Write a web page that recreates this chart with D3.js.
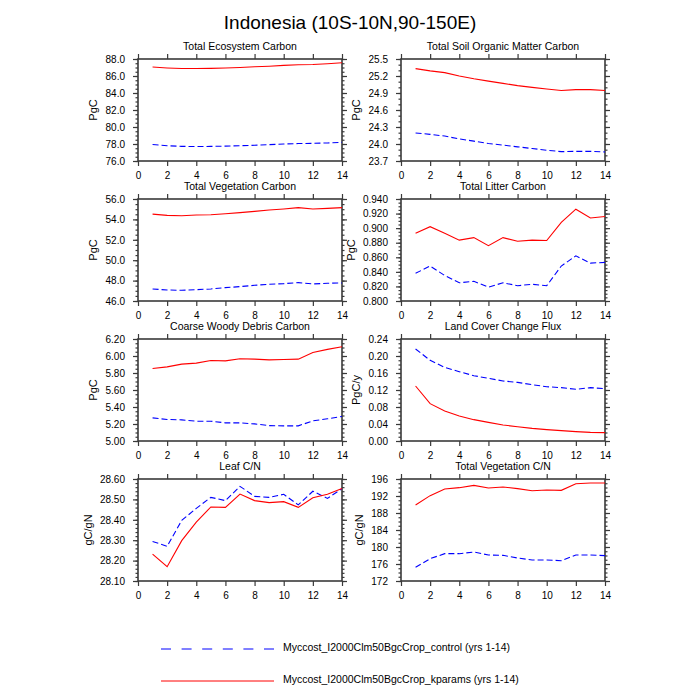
<!DOCTYPE html>
<html>
<head>
<meta charset="utf-8">
<script src="https://cdn.jsdelivr.net/npm/d3@7"></script>
<style>
  body { margin: 0; background: #fff; }
  text { font-family: "Liberation Sans", Arial, Helvetica, sans-serif; }
</style>
</head>
<body>
<div id="chart"></div>
<script>
// ------------------------------------------------------------
// data (years 1-14)

var years = [1, 2, 3, 4, 5, 6, 7, 8, 9, 10, 11, 12, 13, 14];

var tecControl = [77.95, 77.8, 77.72, 77.7, 77.72, 77.75, 77.8, 77.85, 77.92, 78.0, 78.05, 78.08, 78.12, 78.2];
var tecKparams = [87.05, 86.95, 86.88, 86.88, 86.9, 86.95, 87.0, 87.08, 87.15, 87.25, 87.33, 87.35, 87.45, 87.55];
var tecTicks = [76, 78, 80, 82, 84, 86, 88];

var somControl = [24.195, 24.17, 24.14, 24.09, 24.05, 24.01, 23.98, 23.95, 23.92, 23.89, 23.865, 23.87, 23.87, 23.86];
var somKparams = [25.33, 25.29, 25.26, 25.2, 25.15, 25.11, 25.07, 25.03, 25.0, 24.97, 24.945, 24.96, 24.96, 24.945];
var somTicks = [23.7, 24.0, 24.3, 24.6, 24.9, 25.2, 25.5];

var vegControl = [47.18, 47.08, 47.05, 47.11, 47.18, 47.31, 47.41, 47.54, 47.64, 47.7, 47.8, 47.67, 47.74, 47.77];
var vegKparams = [54.52, 54.39, 54.36, 54.43, 54.46, 54.56, 54.66, 54.79, 54.92, 55.02, 55.15, 55.02, 55.08, 55.15];
var vegTicks = [46, 48, 50, 52, 54, 56];

var litControl = [0.838, 0.848, 0.835, 0.825, 0.827, 0.819, 0.825, 0.821, 0.823, 0.821, 0.848, 0.862, 0.852, 0.853];
var litKparams = [0.893, 0.902, 0.893, 0.8835, 0.887, 0.876, 0.887, 0.882, 0.8835, 0.883, 0.908, 0.926, 0.914, 0.916];
var litTicks = [0.80, 0.82, 0.84, 0.86, 0.88, 0.90, 0.92, 0.94];

var cwdControl = [5.272, 5.253, 5.249, 5.233, 5.233, 5.213, 5.213, 5.201, 5.181, 5.178, 5.178, 5.237, 5.261, 5.288];
var cwdKparams = [5.853, 5.872, 5.904, 5.916, 5.947, 5.943, 5.967, 5.963, 5.955, 5.959, 5.963, 6.042, 6.078, 6.109];
var cwdTicks = [5.0, 5.2, 5.4, 5.6, 5.8, 6.0, 6.2];

var lccControl = [0.2165, 0.1898, 0.1733, 0.1631, 0.1537, 0.1475, 0.1412, 0.138, 0.1325, 0.1278, 0.1255, 0.1216, 0.1255, 0.1231];
var lccKparams = [0.1294, 0.0878, 0.0706, 0.0588, 0.0502, 0.0439, 0.0376, 0.0337, 0.0298, 0.0267, 0.0243, 0.022, 0.0204, 0.0196];
var lccTicks = [0.00, 0.04, 0.08, 0.12, 0.16, 0.20, 0.24];

var leafControl = [28.294, 28.27, 28.397, 28.456, 28.51, 28.494, 28.564, 28.515, 28.51, 28.525, 28.473, 28.54, 28.505, 28.553];
var leafKparams = [28.232, 28.17, 28.298, 28.389, 28.463, 28.461, 28.526, 28.494, 28.484, 28.489, 28.461, 28.508, 28.525, 28.553];
var leafTicks = [28.1, 28.2, 28.3, 28.4, 28.5, 28.6];

var vcnControl = [175.22, 177.25, 178.43, 178.43, 178.82, 178.12, 178.04, 177.41, 176.94, 176.94, 176.78, 178.12, 178.12, 177.96];
var vcnKparams = [189.88, 192.08, 193.65, 193.96, 194.5, 193.88, 194.12, 193.73, 193.25, 193.4, 193.33, 194.9, 195.06, 195.06];
var vcnTicks = [172, 176, 180, 184, 188, 192, 196];

var xTicks = [0, 2, 4, 6, 8, 10, 12, 14];

var seriesNames = ["Myccost_I2000Clm50BgcCrop_control (yrs 1-14)",
                   "Myccost_I2000Clm50BgcCrop_kparams (yrs 1-14)"];

// panel settings (title, unit, data, tick format, minor step)
var panels = [
    { title: "Total Ecosystem Carbon", unit: "PgC", c: tecControl, k: tecKparams, ticks: tecTicks, fmt: ".1f", minor: 0.5 },
    { title: "Total Soil Organic Matter Carbon", unit: "PgC", c: somControl, k: somKparams, ticks: somTicks, fmt: ".1f", minor: 0.1 },
    { title: "Total Vegetation Carbon", unit: "PgC", c: vegControl, k: vegKparams, ticks: vegTicks, fmt: ".1f", minor: 0.5 },
    { title: "Total Litter Carbon", unit: "PgC", c: litControl, k: litKparams, ticks: litTicks, fmt: ".3f", minor: 0.005 },
    { title: "Coarse Woody Debris Carbon", unit: "PgC", c: cwdControl, k: cwdKparams, ticks: cwdTicks, fmt: ".2f", minor: 0.05 },
    { title: "Land Cover Change Flux", unit: "PgC/y", c: lccControl, k: lccKparams, ticks: lccTicks, fmt: ".2f", minor: 0.01 },
    { title: "Leaf C/N", unit: "gC/gN", c: leafControl, k: leafKparams, ticks: leafTicks, fmt: ".2f", minor: 0.02 },
    { title: "Total Vegetation C/N", unit: "gC/gN", c: vcnControl, k: vcnKparams, ticks: vcnTicks, fmt: ".0f", minor: 1 }
];

// --------------------------------------------------
// layout

var colLeft = [138, 401];
var rowTop = [59, 199, 339, 479];
var pw = 204, ph = 102;
var frameColor = "#3a3a3a";

var svg = d3.select("#chart")
    .append("svg")
    .attr("width", 700)
    .attr("height", 700);

svg.append("rect")
    .attr("width", 700)
    .attr("height", 700)
    .attr("fill", "#fff");

// main title
svg.append("text")
    .attr("x", 350)
    .attr("y", 29)
    .attr("text-anchor", "middle")
    .attr("font-size", "19px")
    .text("Indonesia (10S-10N,90-150E)");

function minorValues(ticks, step) {
    var out = [];
    var lo = ticks[0], hi = ticks[ticks.length - 1];
    var n = Math.round((hi - lo) / step);
    for (var i = 0; i <= n; i++) {
        var v = lo + i * step;
        out.push(v);
    }
    return out;
}

panels.forEach(function(p, i) {
    var left = colLeft[i % 2];
    var top = rowTop[Math.floor(i / 2)];

    var g = svg.append("g")
        .attr("transform", "translate(" + left + ", " + top + ")");

    var x = d3.scaleLinear()
        .domain([0, 14])
        .range([0, pw]);

    var y = d3.scaleLinear()
        .domain([p.ticks[0], p.ticks[p.ticks.length - 1]])
        .range([ph, 0]);

    // minor ticks on y, both sides
    var minors = minorValues(p.ticks, p.minor);
    g.append("g")
        .attr("class", "minor")
        .call(d3.axisLeft(y).tickValues(minors).tickSize(2.5).tickFormat("").tickSizeOuter(0));
    g.append("g")
        .attr("class", "minor")
        .attr("transform", "translate(" + pw + ", 0)")
        .call(d3.axisRight(y).tickValues(minors).tickSize(2.5).tickFormat("").tickSizeOuter(0));

    // y axis with labels
    var yAxis = g.append("g")
        .attr("class", "y-axis")
        .call(d3.axisLeft(y).tickValues(p.ticks).tickSize(5).tickPadding(8)
            .tickFormat(d3.format(p.fmt)).tickSizeOuter(0));
    g.append("g")
        .attr("transform", "translate(" + pw + ", 0)")
        .call(d3.axisRight(y).tickValues(p.ticks).tickSize(5).tickFormat("").tickSizeOuter(0));

    // x axis bottom with labels, top mirrored
    g.append("g")
        .attr("class", "x-axis")
        .attr("transform", "translate(0, " + ph + ")")
        .call(d3.axisBottom(x).tickValues(xTicks).tickSize(5).tickPadding(6).tickSizeOuter(0));
    g.append("g")
        .call(d3.axisTop(x).tickValues(xTicks).tickSize(5).tickFormat("").tickSizeOuter(0));

    g.selectAll(".domain").remove();
    g.selectAll(".tick line")
        .attr("stroke", frameColor)
        .attr("stroke-width", 1.2);
    g.selectAll(".tick text")
        .attr("fill", "#000")
        .attr("font-size", "10px")
        .attr("font-family", "'Liberation Sans', Arial, sans-serif");

    // frame
    g.append("rect")
        .attr("width", pw)
        .attr("height", ph)
        .attr("fill", "none")
        .attr("stroke", frameColor)
        .attr("stroke-width", 1.6);

    // lines
    var line = function(vals) {
        return d3.line()
            .x(function(d, j) { return x(years[j]); })
            .y(function(d) { return y(d); })(vals);
    };

    g.append("path")
        .attr("d", line(p.c))
        .attr("fill", "none")
        .attr("stroke", "#0000ff")
        .attr("stroke-width", 1.1)
        .attr("stroke-dasharray", "6,3");

    g.append("path")
        .attr("d", line(p.k))
        .attr("fill", "none")
        .attr("stroke", "#ff0000")
        .attr("stroke-width", 1.1);

    // panel title
    g.append("text")
        .attr("x", pw / 2)
        .attr("y", -9)
        .attr("text-anchor", "middle")
        .attr("font-size", "10.5px")
        .text(p.title);

    // y label, placed left of the widest tick label
    var maxW = 0;
    yAxis.selectAll("text").each(function() {
        maxW = Math.max(maxW, this.getBBox().width);
    });
    g.append("text")
        .attr("x", -(ph / 2))
        .attr("y", -(13 + maxW + 8))
        .attr("font-size", "11px")
        .attr("text-anchor", "middle")
        .attr("transform", "rotate(-90)")
        .text(p.unit);
});

// legend
var legY = [649, 681];
var legend = svg.append("g");

legend.append("line")
    .attr("x1", 161).attr("x2", 274)
    .attr("y1", legY[0]).attr("y2", legY[0])
    .attr("stroke", "#0000ff")
    .attr("stroke-width", 1)
    .attr("stroke-dasharray", "10,10.6");

legend.append("line")
    .attr("x1", 161).attr("x2", 274)
    .attr("y1", legY[1]).attr("y2", legY[1])
    .attr("stroke", "#ff0000")
    .attr("stroke-width", 1);

legend.selectAll("text.leg")
    .data(seriesNames)
    .enter()
    .append("text")
    .attr("class", "leg")
    .attr("x", 283)
    .attr("y", function(d, i) { return legY[i] + 2; })
    .attr("font-size", "10.5px")
    .text(function(d) { return d; });
</script>
</body>
</html>
